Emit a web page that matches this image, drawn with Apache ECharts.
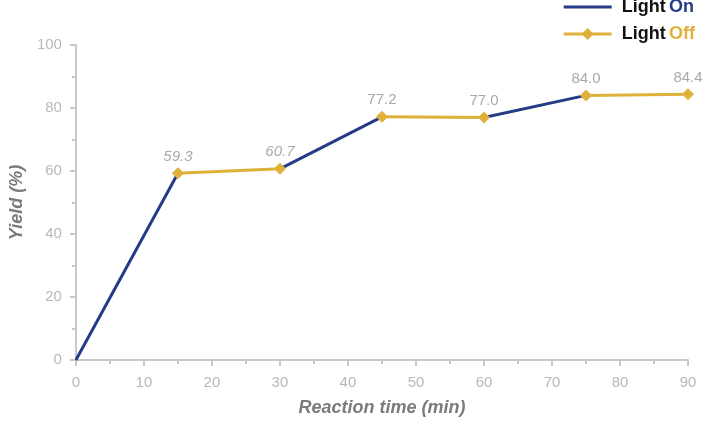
<!DOCTYPE html>
<html>
<head>
<meta charset="utf-8">
<script src="https://cdn.jsdelivr.net/npm/echarts@6/dist/echarts.min.js"></script>
<style>
  html, body { margin: 0; padding: 0; background: #fff; }
  #chart { width: 709px; height: 430px; }
</style>
</head>
<body>
<div id="chart"></div>
<script>
const times = [0, 15, 30, 45, 60, 75, 90]
const yields = [0, 59.3, 60.7, 77.2, 77.0, 84.0, 84.4]
const yieldLabels = ['', '59.3', '60.7', '77.2', '77.0', '84.0', '84.4']
const italicLabels = [false, true, true, false, false, false, false]
// segment start indices for each lighting state
const onStarts = [0, 2, 4]
const offStarts = [1, 3, 5]

const blue = '#263b87'
const gold = '#dfb13a'
const axisGray = '#c8c8c8'

const buildSegments = (starts) => {
  const data = []
  starts.forEach((s, k) => {
    if (k > 0) data.push('-')
    data.push([times[s], yields[s], s])
    data.push([times[s + 1], yields[s + 1], s + 1])
  })
  return data
}

const chart = echarts.init(document.getElementById('chart'))
chart.setOption({
  animation: false,
  textStyle: { fontFamily: 'Liberation Sans, Arial, sans-serif' },
  grid: { left: 70, right: 21, top: 45, bottom: 70 },
  legend: {
    right: 14,
    top: -2,
    padding: 0,
    orient: 'vertical',
    itemWidth: 48,
    itemHeight: 15,
    itemGap: 9,
    lineStyle: { width: 3 },
    data: [{ name: 'Light On', itemStyle: { opacity: 0 } }, 'Light Off'],
    formatter: (name) => name === 'Light On'
      ? '{b|Light} {on|On}'
      : '{b|Light} {off|Off}',
    textStyle: {
      padding: [0, 0, 0, 5],
      rich: {
        b: { fontSize: 18, fontWeight: 'bold', color: '#111', lineHeight: 18 },
        on: { fontSize: 18, fontWeight: 'bold', color: blue, lineHeight: 18 },
        off: { fontSize: 18, fontWeight: 'bold', color: gold, lineHeight: 18 }
      }
    }
  },
  xAxis: {
    type: 'value',
    min: 0,
    max: 90,
    interval: 10,
    name: 'Reaction time (min)',
    nameLocation: 'middle',
    nameGap: 39,
    nameTextStyle: { fontSize: 18, fontWeight: 'bold', fontStyle: 'italic', color: '#7b7b7b' },
    axisLine: { lineStyle: { color: axisGray, width: 2 } },
    axisTick: { show: true, length: 6, lineStyle: { color: axisGray, width: 2 } },
    minorTick: { show: true, splitNumber: 2, length: 4, lineStyle: { color: axisGray, width: 2 } },
    axisLabel: { fontSize: 15, color: '#b8b8b8', margin: 15 },
    splitLine: { show: false }
  },
  yAxis: {
    type: 'value',
    min: 0,
    max: 100,
    interval: 20,
    name: 'Yield (%)',
    nameLocation: 'middle',
    nameGap: 49,
    nameTextStyle: { fontSize: 18, fontWeight: 'bold', fontStyle: 'italic', color: '#7b7b7b' },
    axisLine: { show: true, lineStyle: { color: axisGray, width: 2 } },
    axisTick: { show: true, length: 6, lineStyle: { color: axisGray, width: 2 } },
    minorTick: { show: true, splitNumber: 2, length: 4, lineStyle: { color: axisGray, width: 2 } },
    axisLabel: { fontSize: 15, color: '#b8b8b8', margin: 14 },
    splitLine: { show: false }
  },
  series: [
    {
      name: 'Light On',
      type: 'line',
      symbol: 'none',
      connectNulls: false,
      color: blue,
      lineStyle: { width: 3, color: blue },
      data: buildSegments(onStarts),
      z: 2
    },
    {
      name: 'Light Off',
      type: 'line',
      symbol: 'diamond',
      symbolSize: 12,
      connectNulls: false,
      color: gold,
      itemStyle: { color: gold },
      lineStyle: { width: 3, color: gold },
      label: {
        show: true,
        position: 'top',
        distance: 3,
        fontSize: 15,
        color: '#a9a9a9',
        formatter: (p) => italicLabels[p.value[2]]
          ? '{i|' + yieldLabels[p.value[2]] + '}'
          : yieldLabels[p.value[2]],
        rich: { i: { fontSize: 15, fontStyle: 'italic', color: '#a9a9a9' } }
      },
      data: buildSegments(offStarts),
      z: 3
    }
  ]
})
</script>
</body>
</html>
